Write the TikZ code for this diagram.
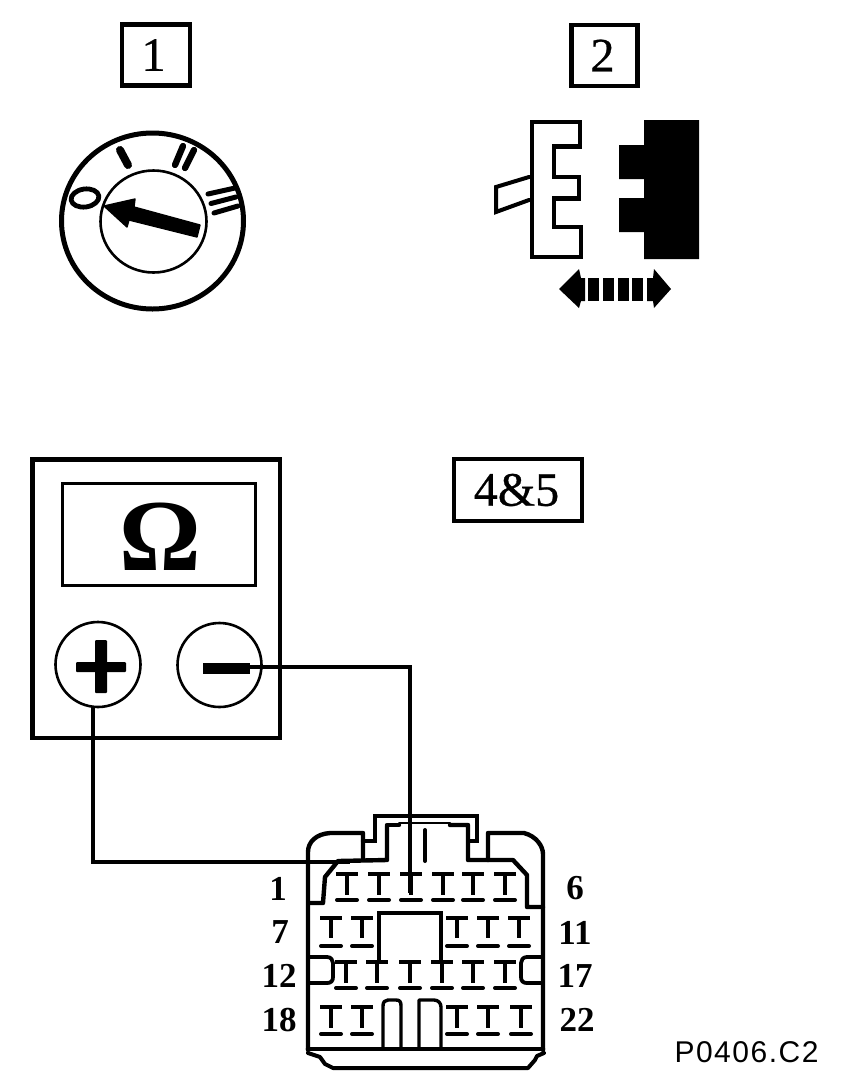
\documentclass[tikz,border=0pt]{standalone}
\usepackage{fontspec}
\setmainfont{Liberation Serif}
\newfontfamily\boxfont[FakeBold=0.6]{Liberation Serif}
\newfontfamily\codefont[LetterSpace=5]{Liberation Sans}
\tikzset{
  ink/.style={draw=black,line join=round,line cap=round},
  boxlabel/.style={draw=black,line width=4.6pt,inner sep=0pt,font=\boxfont\fontsize{48}{50}\selectfont},
  terminal/.style={circle,draw=black,line width=2.6pt,inner sep=0pt,minimum size=85pt},
  wire/.style={draw=black,line width=4pt,line join=miter},
  pinno/.style={inner sep=0pt,font=\bfseries\fontsize{35}{37}\selectfont},
  body/.style={ink,line width=4.4pt},
  pinline/.style={ink,line width=4pt,line cap=butt},
}
\newcommand{\tpin}[4]{% x, y of top bar, y of stem end, y of foot bar
  \draw[pinline] (#1-11,#2) -- (#1+11,#2);
  \draw[pinline] (#1,#2) -- (#1,#3);
  \draw[pinline,line cap=round] (#1-10,#4) -- (#1+10,#4);
}
\begin{document}
\begin{tikzpicture}[x=1pt,y=-1pt]
\useasboundingbox (0,0) rectangle (864,1088);
\fill[white] (0,0) rectangle (864,1088);

% step labels
\node[boxlabel,minimum width=68pt,minimum height=61pt] (stepa) at (156,55) {\hspace*{-5pt}1};
\node[boxlabel,minimum width=66pt,minimum height=61pt] (stepb) at (604.5,55.5) {\hspace*{-4pt}2};
\node[boxlabel,line width=3.6pt,minimum width=128pt,minimum height=62pt] (stepc) at (518,490) {\hspace*{-3pt}4\&5};

% key dial
\draw[ink,line width=5pt] (152.5,221) ellipse [x radius=91,y radius=88];
\draw[ink,line width=2.6pt] (153.5,221.5) ellipse [x radius=53,y radius=51];
\draw[ink,line width=8pt] (120,150) -- (128,165);
\draw[ink,line width=6.4pt] (183,146) -- (175,165);
\draw[ink,line width=6.4pt] (194,150) -- (185,168);
\draw[ink,line width=5pt] (208,194) -- (235,188);
\draw[ink,line width=5pt] (211,203.5) -- (236,197);
\draw[ink,line width=5pt] (214,213) -- (238,206);
\draw[ink,line width=4.8pt,rotate around={8:(85,198)}] (85,198) ellipse [x radius=14,y radius=9];
\fill[black,draw=black,line width=1.4pt,line join=round] (104,206) -- (135,199) -- (134,207) -- (200,225) -- (197,237) -- (129,220) -- (127,227) -- cycle;

% connector halves
\draw[ink,line width=4.6pt,line join=miter] (532,122) -- (580,122) -- (580,146.5) -- (554,146.5) -- (554,177) -- (579,177) -- (579,198.5) -- (554,198.5) -- (554,227) -- (581,227) -- (581,257) -- (532,257) -- cycle;
\draw[ink,line width=4pt,line join=miter] (529,177) -- (496,187) -- (496,212) -- (529,200);
\fill[black] (644,120) -- (699,120) -- (699,259) -- (644,259) -- (644,232) -- (619,232) -- (619,198) -- (644,198) -- (644,179) -- (619,179) -- (619,145) -- (644,145) -- cycle;

% double arrow
\fill[black] (559,289) -- (579,269) -- (581,278) -- (585,278) -- (585,301) -- (581,301) -- (579,308) -- cycle;
\fill[black] (588,278) rectangle (599,301);
\fill[black] (603,278) rectangle (614,301);
\fill[black] (618,278) rectangle (629,301);
\fill[black] (632,278) rectangle (643,301);
\fill[black] (647,278) -- (653,278) -- (654,269) -- (671,289) -- (654,308) -- (653,301) -- (647,301) -- cycle;

% ohmmeter
\draw[ink,line width=4.6pt,line join=miter] (32.5,459.5) rectangle (280,738);
\node[draw=black,line width=3pt,inner sep=0pt,minimum width=193pt,minimum height=102pt] (display) at (158.5,534) {};
\node[inner sep=0pt,font=\bfseries\fontsize{102}{110}\selectfont] (omega) at (160,537) {Ω};
\node[terminal] (plusterm) at (98,664.5) {};
\node[terminal,minimum size=84pt] (minusterm) at (219.5,665) {};
\fill[black,rounded corners=1pt] (76,662) rectangle (126,672);
\fill[black,rounded corners=1pt] (95,640) rectangle (107,693);
\fill[black] (203,663) rectangle (250,674);

% wires
\coordinate (plusout) at (93,707);
\coordinate (minusout) at (250,667);
\coordinate (pinone) at (350,862);
\coordinate (pinthree) at (410,893);
\draw[wire] (plusout) |- (pinone);
\draw[wire] (minusout) -| (pinthree);

% multi-pin connector: outer shell
\draw[body] (363,858) -- (363,833) -- (330,833) .. controls (316,834) and (308,842) .. (308,852) -- (308,1050);
\draw[body] (488,860) -- (488,833) -- (524,833) .. controls (536,836) and (543,846) .. (543,854) -- (543,1050);
\draw[body,line join=miter] (363,841) -- (375,841) -- (375,816) -- (477,816) -- (477,841) -- (470,841);
\draw[body] (310,903) -- (323,903) -- (325,877) -- (338,861) -- (387,860) -- (387,826);
\draw[body] (387,825) -- (399,825);
\draw[ink,line width=2pt] (399,823) -- (450,823);
\draw[body] (450,825) -- (468,825) -- (468,860) -- (513,860) -- (527,875) -- (527,907) -- (543,907);
\draw[ink,line width=4pt] (425,830) -- (425,861);
\draw[ink,line width=4.6pt] (308,1049) -- (543,1049);
\draw[ink,line width=4pt] (308,1053) -- (320,1057) -- (325,1064) -- (333,1068) -- (528,1068) -- (535,1060) -- (537,1056) -- (544,1053);
% centre block and keys
\draw[ink,line width=3.8pt,line join=miter] (379,962) -- (379,913) -- (441,913) -- (441,962);
\draw[ink,line width=3.4pt] (383,1048) -- (383,1006) .. controls (383,1002) and (385,1000) .. (388,1000) -- (396,1000) .. controls (400,1000) and (401,1002) .. (401,1006) -- (401,1048);
\draw[ink,line width=3.4pt] (419,1048) -- (419,1000) -- (434,1000) .. controls (438,1000) and (441,1003) .. (441,1007) -- (441,1048);
% side notches
\draw[ink,line width=3.8pt] (310,957) -- (327,957) .. controls (331,957) and (333,960) .. (333,963) -- (333,977) .. controls (333,981) and (331,983) .. (327,983) -- (310,983);
\draw[ink,line width=3.8pt] (541,957) -- (527,957) .. controls (523,957) and (521,960) .. (521,963) -- (521,977) .. controls (521,981) and (523,983) .. (527,983) -- (541,983);

% pins
\foreach \px in {347,379,411,443,473,505} {\tpin{\px}{874}{895}{900}}
\foreach \px in {331,362,457,488,519} {\tpin{\px}{918}{938}{946}}
\foreach \px in {346,377,410,442,473,505} {\tpin{\px}{962}{983}{988}}
\foreach \px in {331,362,457,488,521} {\tpin{\px}{1007}{1028}{1034}}

% pin numbers
\node[pinno] (na) at (278,889) {1};
\node[pinno] (nb) at (575,888) {6};
\node[pinno] (nc) at (280,932) {7};
\node[pinno] (nd) at (575,933) {11};
\node[pinno] (ne) at (279,976) {12};
\node[pinno] (nf) at (575,976) {17};
\node[pinno] (ng) at (279,1020) {18};
\node[pinno] (nh) at (577,1020) {22};

% reference code
\node[inner sep=0pt,font=\codefont\fontsize{30}{32}\selectfont] (code) at (746.5,1052) {P0406.C2};
\end{tikzpicture}
\end{document}
